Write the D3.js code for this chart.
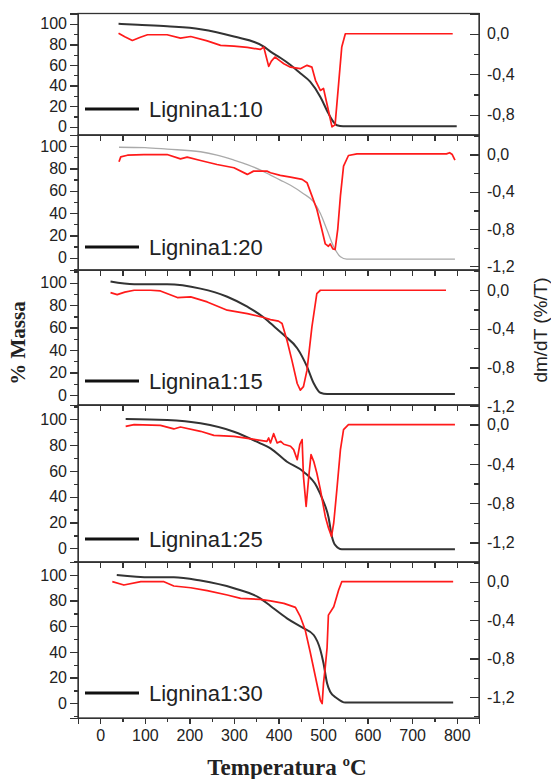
<!DOCTYPE html>
<html>
<head>
<meta charset="utf-8">
<script src="https://cdn.jsdelivr.net/npm/d3@7"></script>
<style>
  body { margin: 0; background: #fff; }
  svg text { fill: #222; }
  .axis path, .axis line { stroke: #333; stroke-width: 1.3; shape-rendering: crispEdges; }
  .axis text { font-family: "Liberation Sans", Arial, sans-serif; font-size: 16px; fill: #222; }
</style>
</head>
<body>
<script>
// TG (% massa) and DTG (dm/dT) curves, [temperature, value]
var tg10 = [[41,100],[84,99],[150,97.5],[225,94.8],[300,87.6],[367,77.9],[382,73],[404,67],[427,60],[449,52],[471,43.8],[494,29],[512,13],[523,5],[531,1.5],[545,0.5],[800,0.5]];
var dtg10 = [[41,0.005],[55,-0.03],[72,-0.066],[90,-0.035],[106,-0.01],[150,-0.01],[180,-0.043],[203,-0.027],[240,-0.07],[270,-0.115],[300,-0.122],[330,-0.135],[359,-0.155],[367,-0.132],[372,-0.22],[378,-0.322],[384,-0.27],[392,-0.23],[404,-0.27],[412,-0.296],[427,-0.33],[449,-0.345],[464,-0.312],[475,-0.33],[483,-0.46],[494,-0.56],[501,-0.54],[505,-0.62],[512,-0.756],[520,-0.92],[527,-0.9],[535,-0.49],[542,-0.13],[550,0],[791,0]];

var tg20 = [[42,99],[100,98.6],[150,97.3],[225,95],[262,92],[300,87.5],[330,83.5],[360,78.5],[382,74],[404,69.6],[427,65],[456,57.4],[479,50],[494,39.7],[509,24.8],[524,9.8],[539,0.9],[553,-1.2],[796,-1.2]];
var dtg20 = [[42,-0.078],[46,-0.025],[61,-0.007],[98,0],[150,0],[180,-0.046],[195,-0.028],[225,-0.064],[262,-0.107],[300,-0.142],[330,-0.213],[344,-0.178],[374,-0.178],[382,-0.195],[404,-0.224],[427,-0.242],[453,-0.267],[464,-0.302],[475,-0.444],[486,-0.587],[497,-0.8],[505,-0.96],[512,-0.985],[516,-0.96],[522,-1.013],[527,-1.02],[533,-0.8],[539,-0.444],[546,-0.124],[557,-0.01],[576,0.007],[700,0.007],[777,0.007],[784,0.02],[790,0],[796,-0.06]];

var tg15 = [[23,101],[76,98.6],[150,98.6],[225,94.7],[285,87.5],[330,78.6],[367,69],[382,63.8],[412,53.4],[442,41.6],[464,25.2],[479,10.4],[494,2],[509,0.9],[796,0.9]];
var dtg15 = [[23,-0.024],[38,-0.045],[55,-0.02],[76,0],[113,0],[135,-0.007],[173,-0.076],[203,-0.069],[240,-0.121],[285,-0.207],[330,-0.242],[367,-0.283],[382,-0.304],[400,-0.32],[408,-0.345],[419,-0.518],[430,-0.725],[442,-0.967],[449,-1.036],[456,-1.0],[464,-0.829],[475,-0.38],[486,-0.034],[494,0],[776,0]];

var tg25 = [[57,100.2],[150,99.5],[225,96.9],[300,90.4],[359,81.4],[382,77.5],[419,67.1],[456,59.4],[486,47.8],[500,37],[512,24.5],[520,9],[527,2.6],[542,-0.8],[796,-0.8]];
var dtg25 = [[57,-0.017],[76,0],[135,-0.007],[165,-0.044],[180,-0.024],[225,-0.068],[255,-0.109],[300,-0.119],[359,-0.16],[374,-0.17],[378,-0.136],[382,-0.187],[389,-0.092],[397,-0.187],[405,-0.17],[412,-0.2],[427,-0.22],[434,-0.255],[442,-0.357],[448,-0.2],[453,-0.153],[456,-0.527],[462,-0.833],[468,-0.527],[473,-0.306],[479,-0.374],[486,-0.493],[494,-0.663],[505,-0.936],[512,-1.05],[519,-1.14],[524,-1.0],[531,-0.663],[539,-0.255],[546,-0.051],[557,0],[796,0]];

var tg30 = [[37,100],[113,98.2],[165,98.2],[225,95.6],[300,89.6],[359,81.8],[382,75.8],[419,66.2],[456,58.5],[479,53.2],[494,41.5],[501,31.2],[509,15.6],[516,9],[531,3.9],[550,0.5],[792,0.5]];
var dtg30 = [[27,0],[53,-0.035],[91,0],[143,0],[165,-0.045],[203,-0.063],[240,-0.094],[285,-0.139],[315,-0.174],[359,-0.184],[382,-0.2],[412,-0.226],[438,-0.268],[449,-0.365],[460,-0.504],[471,-0.73],[494,-1.235],[498,-1.27],[501,-1.06],[505,-0.888],[509,-0.69],[512,-0.348],[524,-0.261],[535,-0.087],[542,0],[792,0]];

var sampleNames = ["Lignina1:10", "Lignina1:20", "Lignina1:15", "Lignina1:25", "Lignina1:30"];
var massTicks = [0, 20, 40, 60, 80, 100];
var dtgTicks = [0, -0.4, -0.8, -1.2];
var tempTicks = [0, 100, 200, 300, 400, 500, 600, 700, 800];

// layout of the five stacked panels
var panels = [
  {top: 13.5, bottom: 135, mass: [-8, 110],    dtg: [-1.0, 0.2],   tg: tg10, dtg_: dtg10, tgColor: "#333", tgWidth: 2,   legY: 26},
  {top: 135,  bottom: 270, mass: [-11, 110],   dtg: [-1.24, 0.21], tg: tg20, dtg_: dtg20, tgColor: "#aaa", tgWidth: 1.3, legY: 23},
  {top: 270,  bottom: 405, mass: [-8.9, 111.3],dtg: [-1.19, 0.21], tg: tg15, dtg_: dtg15, tgColor: "#333", tgWidth: 2,   legY: 24},
  {top: 405,  bottom: 562, mass: [-10.6, 111.1],dtg: [-1.4, 0.2],  tg: tg25, dtg_: dtg25, tgColor: "#333", tgWidth: 2,   legY: 23},
  {top: 562,  bottom: 718, mass: [-11.5, 110.1],dtg: [-1.42, 0.205],tg: tg30, dtg_: dtg30, tgColor: "#333", tgWidth: 2,  legY: 25}
];

var W = 551, H = 779;
var left = 78, right = 479;

var svg = d3.select("body").append("svg")
    .attr("width", W)
    .attr("height", H);

var x = d3.scaleLinear().domain([-50, 850]).range([left, right]);

var fmtDtg = function(d){
    return (d < 0 ? "-" : "") + Math.abs(d).toFixed(1).replace(".", ",");
};

panels.forEach(function(p, i){
    var yL = d3.scaleLinear().domain(p.mass).range([p.bottom, p.top]);
    var yR = d3.scaleLinear().domain(p.dtg).range([p.bottom, p.top]);
    var g = svg.append("g").attr("class", "panel");

    // frame
    g.append("rect")
        .attr("x", left).attr("y", p.top)
        .attr("width", right - left).attr("height", p.bottom - p.top)
        .attr("fill", "none").attr("stroke", "#333").attr("stroke-width", 1.3);

    // left axis, minor then major
    var minorMass = d3.range(-10, 120, 10).filter(function(v){ return v >= p.mass[0] && v <= p.mass[1]; });
    g.append("g").attr("class", "axis")
        .attr("transform", "translate(" + left + ",0)")
        .call(d3.axisLeft(yL).tickValues(minorMass).tickSize(4).tickFormat(""));
    g.append("g").attr("class", "axis")
        .attr("transform", "translate(" + left + ",0)")
        .call(d3.axisLeft(yL).tickValues(massTicks).tickSize(8).tickPadding(3));

    // right axis, ticks pointing in
    var minorDtg = d3.range(-1.4, 0.21, 0.2).filter(function(v){ return v >= p.dtg[0] - 1e-6 && v <= p.dtg[1] + 1e-6; });
    g.append("g").attr("class", "axis")
        .attr("transform", "translate(" + right + ",0)")
        .call(d3.axisRight(yR).tickValues(minorDtg).tickSize(-5).tickFormat(""));
    g.append("g").attr("class", "axis")
        .attr("transform", "translate(" + right + ",0)")
        .call(d3.axisRight(yR).tickValues(dtgTicks.filter(function(v){ return v >= p.dtg[0] - 0.01; }))
            .tickSize(-9).tickPadding(8).tickFormat(fmtDtg));

    // top ticks, pointing in (not on first panel)
    if (i > 0) {
        g.append("g").attr("class", "axis")
            .attr("transform", "translate(0," + p.top + ")")
            .call(d3.axisTop(x).tickValues(d3.range(-50, 851, 50)).tickSize(-6).tickFormat(""));
    }

    // curves
    var lineTG = d3.line().x(function(d){ return x(d[0]); }).y(function(d){ return yL(d[1]); }).curve(d3.curveMonotoneX);
    var lineDTG = d3.line().x(function(d){ return x(d[0]); }).y(function(d){ return yR(d[1]); }).curve(d3.curveLinear);

    g.append("path").datum(p.tg)
        .attr("d", lineTG)
        .attr("fill", "none").attr("stroke", p.tgColor).attr("stroke-width", p.tgWidth);
    g.append("path").datum(p.dtg_)
        .attr("d", lineDTG)
        .attr("fill", "none").attr("stroke", "#ff1a1a").attr("stroke-width", 1.7)
        .attr("stroke-linejoin", "round");

    // legend
    var ly = p.bottom - p.legY;
    g.append("line")
        .attr("x1", 85).attr("x2", 139).attr("y1", ly).attr("y2", ly)
        .attr("stroke", "#111").attr("stroke-width", 3);
    g.append("text")
        .attr("x", 149).attr("y", ly + 8)
        .attr("font-family", "Liberation Sans, Arial, sans-serif")
        .attr("font-size", 22)
        .attr("fill", "#333")
        .text(sampleNames[i]);

    // bottom axis on last panel
    if (i === panels.length - 1) {
        g.append("g").attr("class", "axis")
            .attr("transform", "translate(0," + p.bottom + ")")
            .call(d3.axisBottom(x).tickValues(d3.range(-50, 851, 100)).tickSize(4).tickFormat(""));
        g.append("g").attr("class", "axis")
            .attr("transform", "translate(0," + p.bottom + ")")
            .call(d3.axisBottom(x).tickValues(tempTicks).tickSize(6).tickPadding(6));
    }
});

// axis titles
svg.append("text")
    .attr("transform", "translate(25,343) rotate(-90)")
    .attr("text-anchor", "middle")
    .attr("font-family", "Liberation Serif, Times New Roman, serif")
    .attr("font-weight", "bold")
    .attr("font-size", 21)
    .text("% Massa");

svg.append("text")
    .attr("transform", "translate(547,330) rotate(-90)")
    .attr("text-anchor", "middle")
    .attr("font-family", "Liberation Sans, Arial, sans-serif")
    .attr("font-size", 19)
    .attr("fill", "#333")
    .text("dm/dT (%/T)");

svg.append("text")
    .attr("x", 287).attr("y", 775)
    .attr("text-anchor", "middle")
    .attr("font-family", "Liberation Serif, Times New Roman, serif")
    .attr("font-weight", "bold")
    .attr("font-size", 23)
    .text("Temperatura ºC");
</script>
</body>
</html>
